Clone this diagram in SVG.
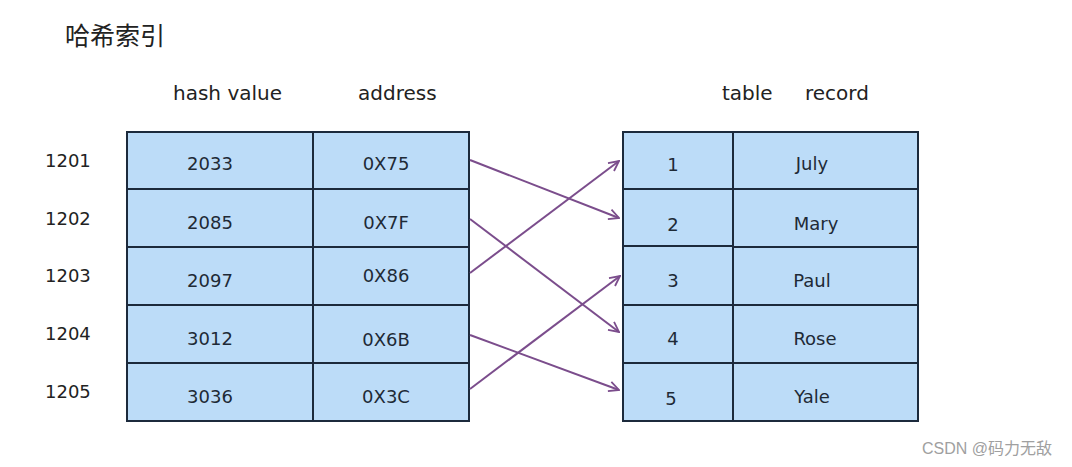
<svg xmlns="http://www.w3.org/2000/svg" width="1072" height="467" viewBox="0 0 1072 467">
<defs>
<style>
.cell{fill:#bcdcf8;stroke:#1c2a3c;stroke-width:2}
.t{font-family:"DejaVu Sans","Liberation Sans",sans-serif;font-size:18px;fill:#1e2a36;text-anchor:middle}
.h{font-family:"DejaVu Sans","Liberation Sans",sans-serif;font-size:20px;fill:#222}
.rl{font-family:"DejaVu Sans","Liberation Sans",sans-serif;font-size:18px;fill:#222}
.c{stroke:#7b4d8c;stroke-width:2;fill:none;marker-end:url(#a)}
</style>
<marker id="a" viewBox="0 0 12 12" refX="11" refY="6" markerWidth="12" markerHeight="12" markerUnits="userSpaceOnUse" orient="auto">
<path d="M1,1 L11,6 L1,11" fill="none" stroke="#7b4d8c" stroke-width="1.8"/>
</marker>
</defs>
<rect width="1072" height="467" fill="#fff"/>
<text x="65" y="45" font-family="'Noto Sans CJK SC',sans-serif" font-size="25" fill="#222">哈希索引</text>
<text class="h" x="173" y="100">hash value</text>
<text class="h" x="358" y="100">address</text>
<text class="h" x="722" y="100">table</text>
<text class="h" x="805" y="100">record</text>
<g id="rowlabels">
<text class="rl" x="45" y="167">1201</text>
<text class="rl" x="45" y="225">1202</text>
<text class="rl" x="45" y="282">1203</text>
<text class="rl" x="45" y="340">1204</text>
<text class="rl" x="45" y="398">1205</text>
</g>
<g id="hash-table">
<rect class="cell" x="127" y="132" width="186" height="57"/><rect class="cell" x="313" y="132" width="156" height="57"/>
<rect class="cell" x="127" y="189" width="186" height="58"/><rect class="cell" x="313" y="189" width="156" height="58"/>
<rect class="cell" x="127" y="247" width="186" height="58"/><rect class="cell" x="313" y="247" width="156" height="58"/>
<rect class="cell" x="127" y="305" width="186" height="58"/><rect class="cell" x="313" y="305" width="156" height="58"/>
<rect class="cell" x="127" y="363" width="186" height="58"/><rect class="cell" x="313" y="363" width="156" height="58"/>
<text class="t" x="210" y="170">2033</text><text class="t" x="386" y="170">0X75</text>
<text class="t" x="210" y="229">2085</text><text class="t" x="386" y="229">0X7F</text>
<text class="t" x="210" y="287">2097</text><text class="t" x="386" y="282">0X86</text>
<text class="t" x="210" y="345">3012</text><text class="t" x="386" y="346">0X6B</text>
<text class="t" x="210" y="403">3036</text><text class="t" x="386" y="403">0X3C</text>
</g>
<g id="record-table">
<rect class="cell" x="623" y="132" width="110" height="57"/><rect class="cell" x="733" y="132" width="185" height="57"/>
<rect class="cell" x="623" y="189" width="110" height="57"/><rect class="cell" x="733" y="189" width="185" height="58"/>
<rect class="cell" x="623" y="246" width="110" height="59"/><rect class="cell" x="733" y="247" width="185" height="58"/>
<rect class="cell" x="623" y="305" width="110" height="58"/><rect class="cell" x="733" y="305" width="185" height="58"/>
<rect class="cell" x="623" y="363" width="110" height="58"/><rect class="cell" x="733" y="363" width="185" height="58"/>
<text class="t" x="673" y="171">1</text><text class="t" x="812" y="170">July</text>
<text class="t" x="673" y="231">2</text><text class="t" x="816" y="230">Mary</text>
<text class="t" x="673" y="287">3</text><text class="t" x="812" y="287">Paul</text>
<text class="t" x="673" y="345">4</text><text class="t" x="815" y="345">Rose</text>
<text class="t" x="671" y="405">5</text><text class="t" x="812" y="403">Yale</text>
</g>
<g id="connectors">
<line class="c" x1="470" y1="160" x2="619" y2="218"/>
<line class="c" x1="470" y1="219" x2="619" y2="332"/>
<line class="c" x1="470" y1="273" x2="619" y2="161"/>
<line class="c" x1="470" y1="335" x2="619" y2="390"/>
<line class="c" x1="470" y1="389" x2="620" y2="276"/>
</g>
<text x="922" y="454" font-family="'Liberation Sans','Noto Sans CJK SC',sans-serif" font-size="16" fill="#a0a0a0">CSDN @码力无敌</text>
</svg>
